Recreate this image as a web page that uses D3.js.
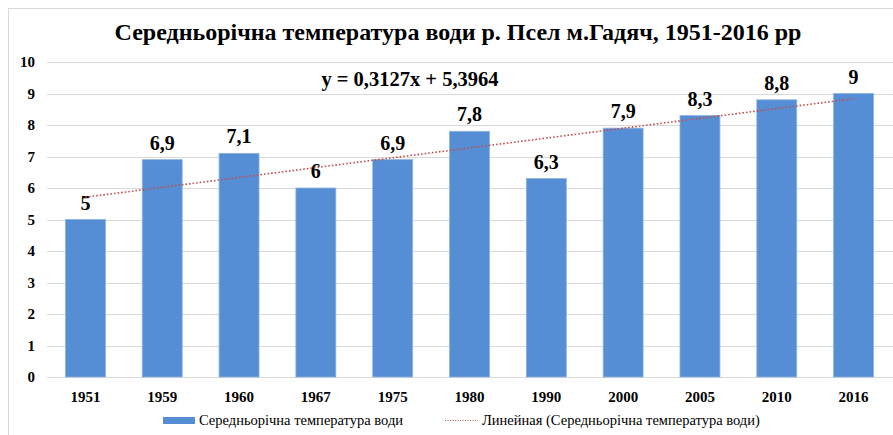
<!DOCTYPE html>
<meta charset="utf-8">
<script src="https://d3js.org/d3.v7.min.js"></script>
<style type="text/css">
    body {
        margin: 0;
        padding: 0;
        background: #FFF;
    }
    .grid line {
        stroke: #D9D9D9;
        stroke-width: 1;
        shape-rendering: crispEdges;
    }
</style>
<body>
</body>
<script>

var years = ["1951", "1959", "1960", "1967", "1975", "1980", "1990", "2000", "2005", "2010", "2016"];
var temps = [5, 6.9, 7.1, 6, 6.9, 7.8, 6.3, 7.9, 8.3, 8.8, 9];
var yTicks = [0, 1, 2, 3, 4, 5, 6, 7, 8, 9, 10];
var trendSlope = 0.3127;
var trendIntercept = 5.3964;

var title = "Середньорічна температура води р. Псел м.Гадяч, 1951-2016 рр";
var equation = "y = 0,3127x + 5,3964";
var legendBar = "Середньорічна температура води";
var legendLine = "Линейная (Середньорічна температура води)";

var width = 893, height = 435;
var serif = "Liberation Serif";

var svg = d3.select("body")
    .append("svg")
    .attr("width", width)
    .attr("height", height);

// chart border
svg.append("rect")
    .attr("x", 8.5).attr("y", 8.5)
    .attr("width", width).attr("height", height)
    .attr("fill", "none")
    .attr("stroke", "#D9D9D9");

var x = d3.scaleBand()
    .domain(years)
    .range([47, 892])
    .paddingInner(0.48)
    .paddingOuter(0.24);

var y = d3.scaleLinear()
    .domain([0, 10])
    .range([377, 62]);

// gridlines
svg.append("g")
    .attr("class", "grid")
    .selectAll("line")
    .data(yTicks)
    .enter().append("line")
    .attr("x1", 47).attr("x2", 893)
    .attr("y1", function (d) { return Math.round(y(d)) + 0.5; })
    .attr("y2", function (d) { return Math.round(y(d)) + 0.5; });

function styleAxis(g) {
    g.select(".domain").remove();
    g.attr("font-family", serif).attr("font-size", 15).attr("font-weight", "bold");
    g.selectAll("text").attr("fill", "#000");
}

// y axis labels
var yAxis = d3.axisLeft(y).tickValues(yTicks).tickSize(0).tickPadding(12);
svg.append("g")
    .attr("transform", "translate(47,0)")
    .call(yAxis)
    .call(styleAxis);

// bars
svg.append("g")
    .selectAll("rect")
    .data(temps)
    .enter().append("rect")
    .attr("x", function (d, i) { return x(years[i]); })
    .attr("y", function (d) { return y(d); })
    .attr("width", x.bandwidth())
    .attr("height", function (d) { return y(0) - y(d); })
    .attr("fill", "#558ED5")
    .attr("stroke", "#8DB3E2")
    .attr("stroke-width", 0.8);

// value labels
svg.append("g")
    .selectAll("text")
    .data(temps)
    .enter().append("text")
    .attr("x", function (d, i) { return x(years[i]) + x.bandwidth() / 2; })
    .attr("y", function (d) { return y(d) - 10; })
    .attr("text-anchor", "middle")
    .attr("font-family", serif)
    .attr("font-size", 20)
    .attr("font-weight", "bold")
    .text(function (d) { return String(d).replace(".", ","); });

// trend line
var trend = d3.line()
    .x(function (d, i) { return x(years[i]) + x.bandwidth() / 2; })
    .y(function (d, i) { return y(trendSlope * (i + 1) + trendIntercept); });

svg.append("path")
    .attr("d", trend(years))
    .attr("fill", "none")
    .attr("stroke", "#C0504D")
    .attr("stroke-width", 1.6)
    .attr("stroke-dasharray", "1.6,2");

// x axis labels
var xAxis = d3.axisBottom(x).tickSize(0).tickPadding(14);
svg.append("g")
    .attr("transform", "translate(0,377)")
    .call(xAxis)
    .call(styleAxis);

// title
svg.append("text")
    .attr("x", 458).attr("y", 40)
    .attr("text-anchor", "middle")
    .attr("font-family", serif)
    .attr("font-size", 24)
    .attr("font-weight", "bold")
    .text(title);

// equation
svg.append("text")
    .attr("x", 410).attr("y", 86)
    .attr("text-anchor", "middle")
    .attr("font-family", serif)
    .attr("font-size", 20.5)
    .attr("font-weight", "bold")
    .text(equation);

// legend
var legend = svg.append("g")
    .attr("font-family", serif)
    .attr("font-size", 14.5);
legend.append("rect")
    .attr("x", 163).attr("y", 417)
    .attr("width", 32).attr("height", 7)
    .attr("fill", "#558ED5");
legend.append("text")
    .attr("x", 199).attr("y", 425)
    .text(legendBar);
legend.append("line")
    .attr("x1", 445).attr("x2", 478)
    .attr("y1", 420.5).attr("y2", 420.5)
    .attr("stroke", "#C0504D")
    .attr("stroke-width", 1)
    .attr("stroke-dasharray", "1,1.5");
legend.append("text")
    .attr("x", 482).attr("y", 425)
    .text(legendLine);

</script>
